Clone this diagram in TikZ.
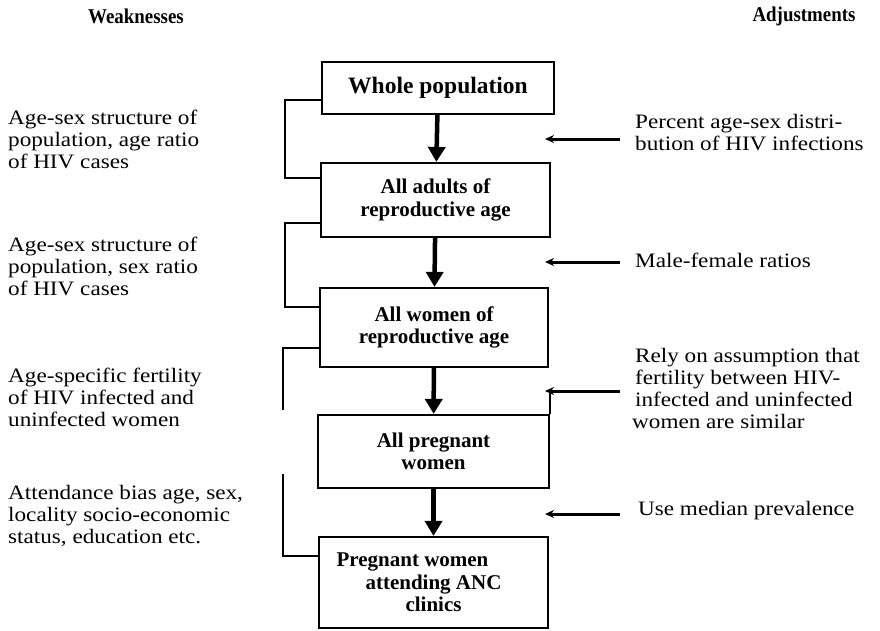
\documentclass[tikz,border=0pt]{standalone}
\usepackage{fontspec}
\setmainfont[FakeStretch=1.13]{Liberation Serif}
\newfontfamily\boxfont{Liberation Serif}
\newfontfamily\headfont[FakeStretch=0.9]{Liberation Serif}
\usetikzlibrary{arrows.meta,calc}
\begin{document}
\begin{tikzpicture}[x=1pt,y=-1pt,
  box/.style={draw, line width=2.2pt, align=center, inner sep=0pt,
    font=\boxfont\bfseries\fontsize{21}{22.5}\selectfont},
  flow/.style={line width=4.5pt, -{Triangle[width=17pt,length=15pt]}},
  brk/.style={line width=1.1pt},
  brkthick/.style={line width=2pt},
  adj/.style={line width=3pt, -{Stealth[length=9pt,width=8pt]}},
  txt/.style={anchor=base west, align=left, inner sep=0pt,
    font=\fontsize{20.5}{22}\selectfont},
  head/.style={inner sep=0pt, font=\headfont\bfseries\fontsize{21}{24}\selectfont}
]
\useasboundingbox (0,0) rectangle (880,630);

% headers
\node[head] (hw) at (136,16) {Weaknesses};
\node[head] (ha) at (804,16) {Adjustments};

% boxes
\node[box, minimum width=232pt, minimum height=52pt,
  font=\boxfont\bfseries\fontsize{23.5}{25}\selectfont] (wp) at (438,88) {Whole population};
\node[box, minimum width=229pt, minimum height=74pt] (aa) at (435.5,200) {All adults of\\reproductive age};
\node[box, minimum width=228pt, minimum height=79pt] (aw) at (434,327.5) {All women of\\reproductive age};
\node[box, minimum width=231pt, minimum height=73pt] (ap) at (433.5,451.5) {All pregnant\\women};
\node[box, minimum width=229pt, minimum height=91pt] (anc) at (433.5,582.5) {Pregnant women\phantom{xxxx}\\attending ANC\\clinics};

% flow arrows
\draw[flow] (wp) -- (aa);
\draw[flow] (aa) -- (aw);
\draw[flow] (aw) -- (ap);
\draw[flow] (ap) -- (anc);

% left brackets
\draw[brk] ($(wp.west)+(0,12)$) -| (285,178) -- ($(aa.west)+(0,-22)$);
\draw[brk] ($(aa.west)+(0,23)$) -| (285,307) -- ($(aw.west)+(0,-20.5)$);
\coordinate (b3end) at (283,410);
\draw[brk] ($(aw.west)+(0,20.5)$) -| (b3end);
\coordinate (b4start) at (283,474);
\draw[brkthick] (b4start) |- ($(anc.west)+(0,-26.5)$);

% right arrows
\coordinate (r1s) at (620,139); \coordinate (r1e) at (545,139);
\coordinate (r2s) at (620,262); \coordinate (r2e) at (545,262);
\coordinate (r3s) at (620,391); \coordinate (r3e) at (545,391);
\coordinate (r4s) at (620,514); \coordinate (r4e) at (545,514);
\draw[adj] (r1s) -- (r1e);
\draw[adj] (r2s) -- (r2e);
\draw[adj] (r3s) -- (r3e);
\draw[line width=2pt] (ap.north east) -- (ap.north east |- r3e);
\draw[adj] (r4s) -- (r4e);

% left texts (anchored at baseline of last line)
\node[txt] (w1) at (8,168) {Age-sex structure of\\population, age ratio\\of HIV cases};
\node[txt] (w2) at (8,295) {Age-sex structure of\\population, sex ratio\\of HIV cases};
\node[txt] (w3) at (8,426) {Age-specific fertility\\of HIV infected and\\uninfected women};
\node[txt] (w4) at (8,543) {Attendance bias age, sex,\\locality socio-economic\\status, education etc.};

% right texts
\node[txt] (a1) at (635,150) {Percent age-sex distri-\\bution of HIV infections};
\node[txt] (a2) at (635,267) {Male-female ratios};
\node[txt] (a3) at (635,428) {Rely on assumption that\\fertility between HIV-\\infected and uninfected\\\hspace*{-3pt}women are similar};
\node[txt] (a4) at (638,515) {Use median prevalence};
\end{tikzpicture}
\end{document}
